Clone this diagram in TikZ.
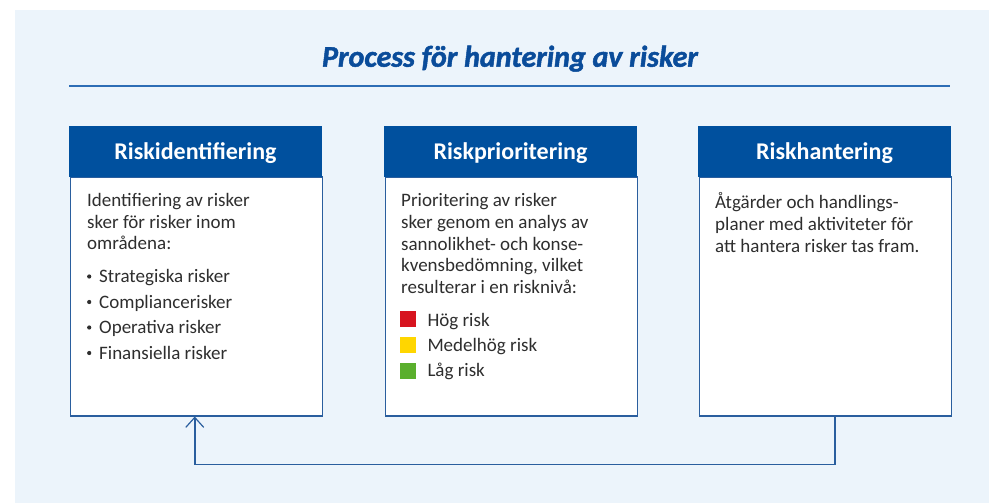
\documentclass[tikz,border=0pt]{standalone}
\usepackage{fontspec}
\setmainfont{Carlito}
\newfontfamily\titlefont{Carlito}[BoldItalicFeatures={FakeBold=1.6}]
\usetikzlibrary{arrows.meta}
\definecolor{bgc}{HTML}{ECF4FB}
\definecolor{hdrc}{HTML}{00509E}
\definecolor{titlec}{HTML}{0A4C9A}
\definecolor{rulec}{HTML}{2D6DB5}
\definecolor{borderc}{HTML}{2A5E9E}
\definecolor{txtc}{HTML}{2E2E2E}
\definecolor{redc}{HTML}{D7141F}
\definecolor{yelc}{HTML}{FFD600}
\definecolor{grnc}{HTML}{5AAF2D}
\tikzset{
  hdrbox/.style={fill=hdrc, draw=hdrc, line width=0.8pt, minimum width=252pt, minimum height=50pt,
    inner sep=0pt, text=white, font=\fontsize{24}{28}\selectfont\bfseries, text height=16.6pt, text depth=0pt},
  bodybox/.style={fill=white, draw=borderc, line width=1.5pt, minimum width=252pt, minimum height=239pt, inner sep=0pt},
  bodytxt/.style={anchor=base west, inner sep=0pt, text=txtc, font=\fontsize{19}{22}\selectfont},
  bulletdot/.style={circle, fill=txtc, inner sep=0pt, minimum size=4.2pt},
  legsq/.style={anchor=north west, inner sep=0pt, minimum width=16pt, minimum height=16pt},
  conn/.style={draw=borderc, line width=1.5pt}
}
\begin{document}
\begin{tikzpicture}[x=1pt,y=-1pt]
\useasboundingbox (0,0) rectangle (989,503);
\fill[bgc] (15,10) rectangle (989,503);
% title
\node[inner sep=0pt, anchor=base, text=titlec, font=\fontsize{30}{34}\selectfont\titlefont\bfseries\itshape] (title) at (510,66.7) {Process för hantering av risker};
\coordinate (rl) at (69,85.7);
\coordinate (rr) at (950,85.7);
\draw[rulec, line width=2pt] (rl) -- (rr);
% boxes
\node[bodybox, anchor=north west] (b1) at (69.5,176) {};
\node[bodybox, anchor=north west] (b2) at (384.5,176) {};
\node[bodybox, anchor=north west] (b3) at (698.5,176) {};
\node[hdrbox] (h1) at (195.5,151) {Riskidentifiering};
\node[hdrbox] (h2) at (510.5,151) {Riskprioritering};
\node[hdrbox] (h3) at (824.5,151) {Riskhantering};
% box 1 text
\foreach \t [count=\i] in {Identifiering av risker, sker för risker inom, områdena:}
  \node[bodytxt] (a\i) at (87,{206.7+21.6*(\i-1)}) {\t};
\foreach \t [count=\i] in {Strategiska risker, Compliancerisker, Operativa risker, Finansiella risker}{
  \node[bulletdot] (ab\i) at (89.2,{282.8-6.3+25.5*(\i-1)}) {};
  \node[bodytxt] (at\i) at (99,{282.8+25.5*(\i-1)}) {\t};
}
% box 2 text
\node[bodytxt] (p1) at (401,206.7) {Prioritering av risker};
\node[bodytxt] (p2) at (401,228.35) {sker genom en analys av};
\node[bodytxt] (p3) at (401,250.0) {sannolikhet- och konse-};
\node[bodytxt] (p4) at (401,271.65) {kvensbedömning, vilket};
\node[bodytxt] (p5) at (401,293.3) {resulterar i en risknivå:};
\node[legsq, fill=redc] (sq1) at (400,311) {};
\node[legsq, fill=yelc] (sq2) at (400,336.5) {};
\node[legsq, fill=grnc] (sq3) at (400,362.5) {};
\node[bodytxt] (l1) at (427.3,326.7) {Hög risk};
\node[bodytxt] (l2) at (427.3,351.7) {Medelhög risk};
\node[bodytxt] (l3) at (427.3,376.7) {Låg risk};
% box 3 text
\foreach \t [count=\i] in {Åtgärder och handlings-, planer med aktiviteter för, att hantera risker tas fram.}
  \node[bodytxt] (h3t\i) at (715,{208.7+22*(\i-1)}) {\t};
% connector
\coordinate (cs) at ([xshift=9.5pt]b3.south);
\coordinate (ce) at ([xshift=-1.5pt]b1.south);
\draw[conn, -{Straight Barb[length=10pt,width=18pt,line width=1.2pt]}] (cs) -- ++(0,48) -| (ce);
\end{tikzpicture}
\end{document}
